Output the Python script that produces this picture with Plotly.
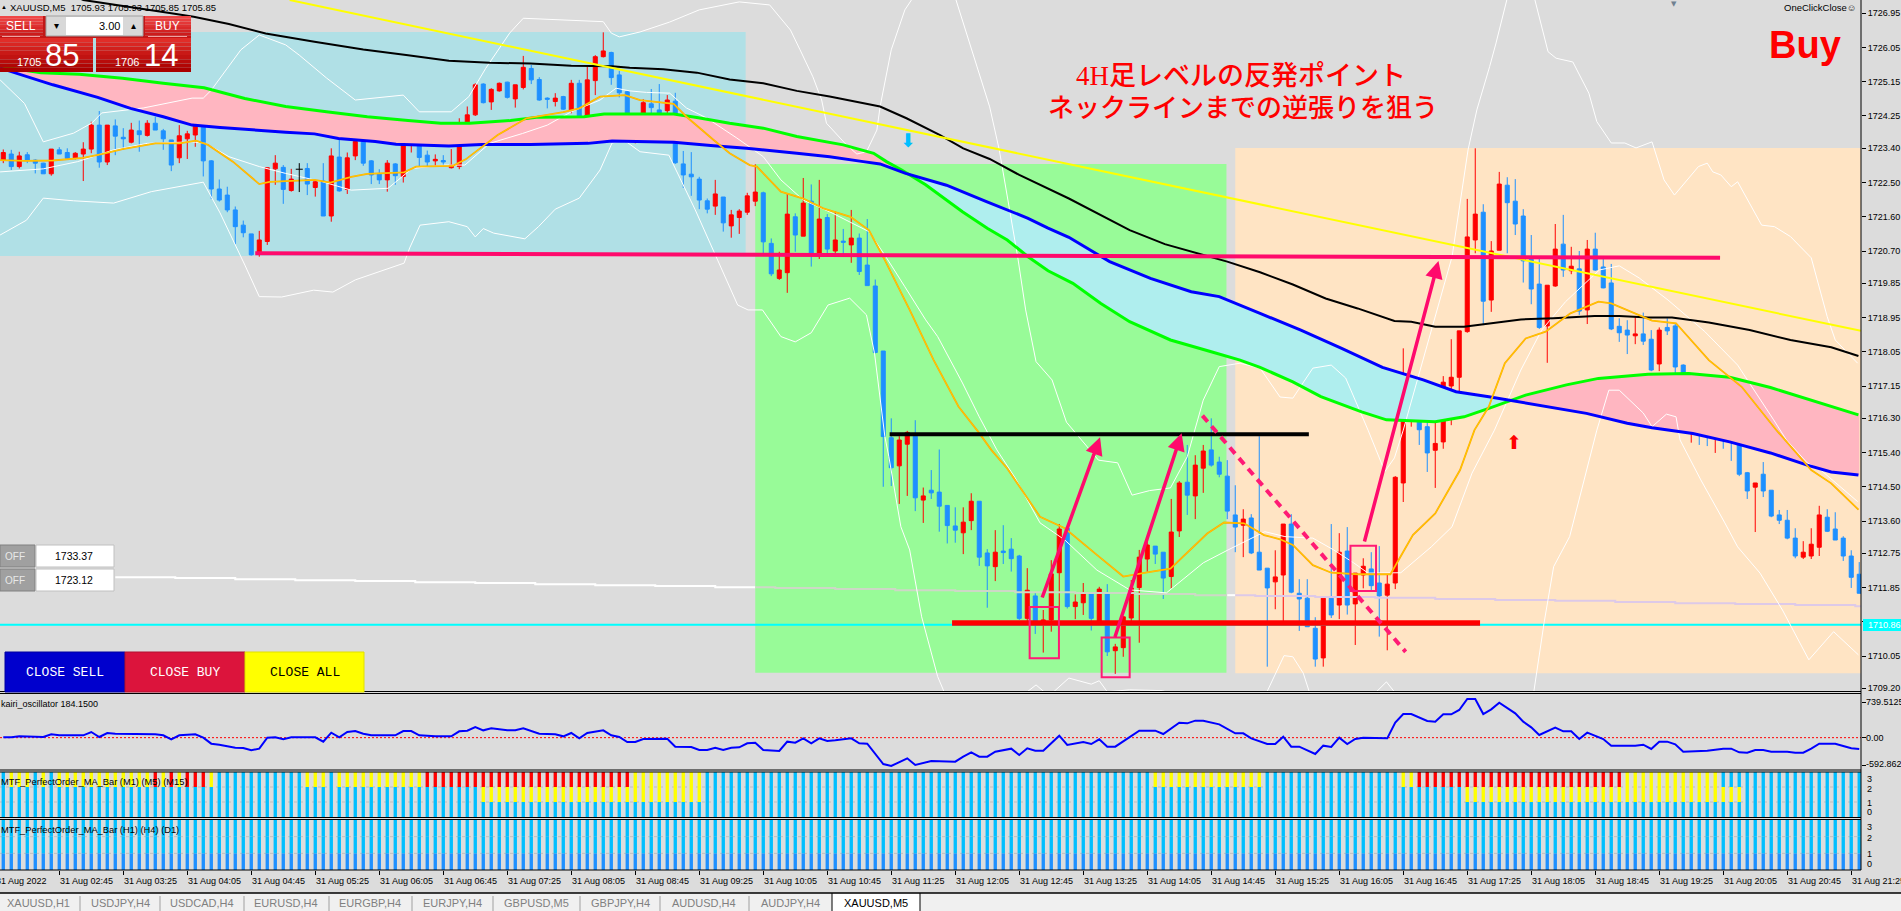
import numpy as np
import plotly.graph_objects as go

# ---------- candle data (bar index = 5-minute bars, first bar 31 Aug 02:10) ----------
opens = [1723.09,1723.25,1722.92,1723.23,1723.09,1723.01,1722.73,1723.36,1723.29,1723.15,
1723.25,1723.38,1724.01,1723.04,1723.99,1723.69,1723.56,1723.86,1723.74,1724.06,
1723.86,1723.62,1723.15,1723.65,1723.75,1724.28,1723.07,1722.33,1722.17,1721.78,
1721.38,1721.15,1720.64,1720.95,1722.86,1722.90,1722.29,1722.85,1722.87,1722.37,
1722.54,1721.62,1723.17,1722.32,1723.20,1723.62,1723.07,1722.73,1722.57,1722.99,
1722.66,1723.67,1723.78,1723.22,1723.07,1723.08,1722.89,1722.92,1723.97,1724.28,
1725.09,1724.62,1724.91,1725.14,1724.70,1725.00,1725.50,1725.21,1724.72,1724.63,
1724.76,1724.41,1725.11,1724.19,1725.18,1725.81,1725.92,1725.33,1724.89,1723.88,
1723.97,1724.57,1724.41,1724.39,1724.64,1722.99,1722.72,1722.59,1722.02,1721.88,
1722.12,1721.36,1721.58,1721.72,1722.01,1722.23,1720.90,1719.98,1720.13,1721.60,
1721.09,1722.01,1720.62,1721.58,1720.70,1720.96,1720.86,1721.04,1720.33,1719.78,
1718.07,1715.79,1715.05,1715.62,1715.83,1714.15,1714.41,1714.36,1714.01,1713.47,
1713.29,1713.61,1714.12,1712.76,1712.40,1712.81,1712.86,1712.68,1711.04,1711.63,
1710.91,1711.00,1712.24,1713.41,1711.35,1711.45,1711.71,1710.91,1711.71,1710.19,
1710.27,1711.05,1711.85,1712.60,1712.94,1712.78,1712.14,1713.34,1714.62,1714.26,
1714.99,1715.47,1715.15,1714.78,1713.76,1713.49,1713.68,1712.78,1712.36,1712.00,
1712.18,1713.52,1711.70,1711.57,1710.78,1710.00,1711.57,1711.39,1712.81,1711.42,
1712.18,1712.34,1711.97,1711.65,1711.97,1714.60,1716.25,1716.75,1716.08,1715.46,
1715.68,1717.15,1717.38,1718.58,1720.99,1721.72,1719.41,1720.72,1722.43,1722.01,
1721.62,1720.48,1719.83,1718.73,1719.78,1720.88,1720.18,1720.23,1719.15,1720.75,
1720.28,1719.86,1718.72,1718.62,1718.47,1718.52,1718.38,1717.73,1718.69,1718.73,
1717.70,1716.23,1716.36,1716.12,1715.99,1715.97,1715.74,1715.77,1714.87,1714.49,
1714.83,1714.41,1713.76,1713.62,1713.15,1712.65,1712.68,1712.91,1713.70,1713.39,
1713.15,1712.68,1712.20]
highs = [1723.37,1723.36,1723.31,1723.30,1723.11,1723.02,1723.38,1723.43,1723.40,1723.30,
1723.56,1724.10,1724.38,1724.01,1724.16,1723.93,1724.07,1724.13,1724.14,1724.23,
1723.91,1723.62,1724.01,1723.86,1724.28,1724.38,1723.09,1722.58,1722.39,1721.87,
1721.50,1721.15,1721.23,1722.89,1723.22,1722.96,1722.86,1723.01,1723.01,1722.58,
1723.01,1723.40,1723.77,1723.29,1723.69,1723.66,1723.09,1722.85,1723.09,1723.01,
1723.99,1723.79,1723.78,1723.34,1723.24,1723.22,1723.38,1724.19,1724.50,1725.11,
1725.11,1724.98,1725.13,1725.15,1725.07,1725.83,1725.59,1725.27,1724.74,1724.85,
1724.78,1725.20,1725.20,1725.55,1725.85,1726.45,1725.94,1725.44,1724.93,1724.14,
1724.69,1724.96,1725.09,1724.80,1724.86,1723.33,1723.30,1722.65,1722.08,1722.57,
1722.12,1721.78,1721.80,1722.23,1722.98,1722.26,1721.03,1720.68,1722.22,1721.69,
1722.62,1722.45,1722.57,1721.67,1721.74,1721.28,1721.78,1721.16,1721.54,1719.95,
1718.07,1716.30,1715.83,1715.97,1716.25,1714.48,1714.94,1715.48,1714.01,1713.96,
1713.96,1714.33,1714.12,1712.86,1713.36,1713.49,1713.15,1712.71,1712.36,1711.73,
1711.26,1712.57,1713.52,1713.41,1711.67,1711.97,1711.71,1711.87,1711.94,1710.37,
1711.10,1712.05,1712.84,1713.07,1712.94,1712.78,1714.18,1714.65,1715.60,1715.33,
1715.60,1716.30,1715.29,1715.20,1714.54,1713.91,1713.78,1715.83,1712.36,1712.83,
1713.52,1713.78,1712.07,1712.07,1711.07,1711.57,1713.52,1713.28,1713.44,1712.23,
1712.62,1712.78,1712.94,1712.20,1714.78,1718.14,1717.13,1717.22,1717.06,1716.47,
1717.41,1718.38,1718.60,1722.07,1723.40,1721.93,1720.96,1722.78,1722.64,1722.59,
1721.80,1721.12,1720.50,1719.80,1721.41,1721.65,1720.81,1720.70,1720.99,1721.18,
1720.50,1720.36,1718.93,1718.88,1718.99,1719.08,1718.62,1718.69,1718.93,1718.80,
1717.72,1716.62,1716.36,1716.20,1716.25,1716.17,1716.02,1715.90,1714.89,1714.60,
1715.15,1714.41,1713.89,1713.89,1713.41,1713.07,1713.41,1714.00,1713.91,1713.83,
1713.20,1712.83,1712.52]
lows = [1723.01,1722.83,1722.87,1723.01,1722.74,1722.73,1722.68,1723.25,1723.11,1723.11,
1722.54,1723.27,1722.89,1722.96,1723.22,1723.36,1723.53,1723.31,1723.71,1723.88,
1723.36,1722.80,1723.01,1723.12,1723.44,1722.66,1722.07,1722.00,1721.72,1720.88,
1721.06,1720.58,1720.55,1720.86,1722.44,1721.94,1722.26,1722.25,1722.17,1722.13,
1721.62,1721.47,1722.26,1722.20,1723.09,1722.94,1722.46,1722.46,1722.26,1722.44,
1722.50,1723.29,1722.92,1722.92,1722.94,1722.94,1722.87,1722.85,1723.72,1724.25,
1724.58,1724.41,1724.89,1724.71,1724.47,1724.95,1725.09,1724.65,1724.45,1724.50,
1724.41,1724.32,1723.97,1724.16,1724.80,1725.79,1725.07,1724.74,1723.62,1723.53,
1723.86,1724.07,1723.99,1724.21,1722.99,1722.36,1722.15,1721.80,1721.69,1721.65,
1721.21,1721.05,1721.15,1721.65,1721.88,1720.64,1720.04,1719.94,1719.60,1720.68,
1721.09,1720.29,1720.49,1720.62,1720.62,1720.62,1720.39,1720.07,1719.79,1718.01,
1714.50,1714.52,1714.05,1714.26,1713.86,1713.55,1714.18,1713.32,1713.01,1713.03,
1712.73,1713.36,1712.42,1711.32,1712.02,1712.47,1712.27,1711.00,1710.93,1710.63,
1710.14,1710.69,1711.04,1711.30,1711.02,1711.13,1710.72,1710.91,1710.05,1709.58,
1710.03,1710.95,1710.40,1712.27,1712.47,1711.55,1711.83,1713.18,1713.76,1713.65,
1714.34,1715.03,1714.75,1713.65,1712.78,1712.65,1712.73,1712.31,1709.77,1711.28,
1710.97,1711.70,1710.71,1710.82,1709.77,1709.77,1711.05,1711.02,1711.14,1710.34,
1711.83,1711.78,1710.56,1710.20,1711.81,1714.10,1716.08,1715.60,1714.89,1714.47,
1715.50,1716.12,1716.96,1718.55,1720.64,1718.75,1719.10,1720.72,1720.64,1721.12,
1719.87,1719.30,1718.65,1717.76,1719.76,1720.02,1720.09,1719.02,1718.78,1720.18,
1719.72,1718.62,1718.31,1717.99,1718.25,1718.23,1717.54,1717.54,1718.49,1717.36,
1716.15,1715.66,1715.60,1715.57,1715.39,1715.50,1715.18,1714.78,1714.18,1713.31,
1714.23,1713.70,1713.52,1713.12,1712.62,1712.60,1712.60,1712.68,1713.31,1713.10,
1712.55,1711.84,1711.70]
closes = [1723.29,1722.92,1723.20,1723.09,1723.01,1722.73,1723.38,1723.25,1723.14,1723.27,
1723.38,1724.01,1723.04,1724.01,1723.72,1723.65,1723.88,1723.76,1724.06,1723.88,
1723.65,1722.96,1723.73,1723.78,1724.23,1723.07,1722.33,1722.04,1721.78,1721.34,
1721.18,1720.60,1720.99,1722.89,1723.01,1722.32,1722.59,1722.85,1722.46,1722.52,
1721.62,1723.20,1722.28,1723.15,1723.58,1723.01,1722.70,1722.57,1723.01,1722.68,
1723.72,1723.78,1723.16,1723.04,1723.11,1723.04,1722.96,1723.96,1724.28,1725.07,
1724.60,1724.95,1725.11,1724.74,1725.07,1725.53,1725.20,1724.67,1724.69,1724.72,
1724.43,1725.11,1724.19,1725.20,1725.81,1725.96,1725.26,1724.86,1723.90,1724.08,
1724.60,1724.47,1724.33,1724.67,1723.02,1722.70,1722.65,1722.04,1721.80,1722.20,
1721.44,1721.65,1721.75,1722.15,1722.25,1720.94,1720.10,1720.20,1721.67,1721.12,
1721.96,1720.62,1721.54,1720.75,1720.99,1720.93,1721.04,1720.16,1719.79,1718.03,
1715.82,1715.00,1715.73,1715.93,1714.21,1714.26,1714.34,1713.99,1713.48,1713.36,
1713.57,1714.12,1712.65,1712.42,1712.78,1712.77,1712.61,1711.04,1711.78,1710.95,
1711.00,1712.21,1713.39,1711.35,1711.47,1711.68,1711.04,1711.81,1710.16,1710.29,
1711.08,1711.84,1712.65,1712.97,1712.73,1712.10,1713.31,1714.60,1714.28,1715.07,
1715.44,1715.07,1714.83,1713.86,1713.44,1713.65,1712.76,1712.31,1711.84,1712.13,
1713.52,1711.73,1711.55,1710.82,1709.97,1711.57,1711.13,1712.78,1711.39,1712.23,
1712.41,1711.90,1711.63,1711.94,1714.75,1716.30,1716.69,1716.00,1715.39,1715.64,
1717.25,1717.38,1718.60,1721.07,1721.67,1719.38,1720.70,1722.46,1721.97,1721.41,
1720.44,1719.70,1718.69,1719.80,1720.75,1720.20,1720.30,1719.12,1720.75,1720.20,
1719.73,1718.65,1718.55,1718.49,1718.52,1718.33,1717.57,1718.62,1718.60,1717.65,
1716.20,1716.33,1716.10,1716.06,1716.10,1715.74,1715.68,1714.83,1714.39,1714.60,
1714.39,1713.73,1713.62,1713.15,1712.68,1712.78,1712.99,1713.76,1713.33,1713.10,
1712.68,1712.12,1711.70]
doji_bar = 37

# ---------- moving averages: (bar, price) ----------
black_k = [8,10,21,23.8,28.2,32.8,38.9,45,50.6,55.7,60.8,65.9,71,76.1,78.3,82.5,86.7,90.8,95,99.2,103.3,107.5,109.6,112.9,117.1,120,123.3,127,133.2,140.8,145.2,153,157.1,161.2,165.3,169.3,173.9,176,179,182.6,187.7,189.7,193.8,198.9,202,205.6,208.6,213.2,218.3,223.4,228.5,231.9]
black_p = [1727.5,1727.3,1726.95,1726.86,1726.67,1726.42,1726.20,1726.0,1725.85,1725.70,1725.65,1725.63,1725.57,1725.56,1725.52,1725.48,1725.39,1725.21,1725.11,1724.91,1724.76,1724.60,1724.50,1724.19,1723.75,1723.40,1723.12,1722.70,1722.08,1721.25,1720.88,1720.42,1720.14,1719.82,1719.45,1719.19,1718.86,1718.84,1718.71,1718.71,1718.86,1718.90,1718.93,1718.99,1718.99,1718.95,1718.95,1718.82,1718.62,1718.36,1718.17,1717.94]
blue_k = [-0.4,1.9,6.2,11.8,15.9,20,23.6,27.1,31.2,35.3,38.9,41.9,46.5,49.1,55.7,59.8,65.9,73.1,76.1,79.6,83.8,88.8,92.9,99.2,103.3,107.5,109.6,112.8,117.9,122.9,128.1,130.6,133.2,138.3,143.4,148.5,152,157.1,162.2,167.3,172.4,177.5,181.6,185.7,188.2,192.8,197.9,203,206.1,211.2,215.8,220.9,225.5,228.5,231.9]
blue_p = [1725.51,1725.35,1725.07,1724.74,1724.45,1724.23,1724.01,1723.95,1723.88,1723.82,1723.78,1723.66,1723.58,1723.51,1723.46,1723.50,1723.50,1723.53,1723.59,1723.58,1723.56,1723.47,1723.40,1723.27,1723.18,1723.05,1722.99,1722.74,1722.43,1722.0,1721.56,1721.30,1721.06,1720.42,1719.98,1719.63,1719.50,1719.06,1718.62,1718.14,1717.64,1717.31,1717.0,1716.87,1716.78,1716.61,1716.43,1716.17,1716.05,1715.90,1715.68,1715.39,1715.07,1714.89,1714.81]
green_k = [-0.4,4.7,9.5,14.9,20,25.1,30.2,35.3,40.4,45.5,50.6,54.7,58.3,63.4,66.9,72.6,75.1,79.6,83.8,86.7,90.8,95,99.2,105,108.8,110.4,112.3,115.3,119.9,123,125.5,128.1,130.6,133.7,137.2,140.8,145.9,151,154.6,157.1,161.2,164.7,169.8,172.9,179,182.6,185.7,190.3,195.4,199.4,205.6,210.7,215.8,220.9,226,231.9]
green_p = [1725.55,1725.39,1725.35,1725.24,1725.11,1724.99,1724.71,1724.50,1724.36,1724.23,1724.13,1724.06,1724.06,1724.13,1724.22,1724.23,1724.30,1724.30,1724.30,1724.21,1724.06,1723.93,1723.71,1723.49,1723.27,1723.05,1722.83,1722.44,1721.73,1721.30,1720.99,1720.55,1720.18,1719.85,1719.32,1718.84,1718.36,1718.05,1717.83,1717.64,1717.26,1716.87,1716.47,1716.26,1716.21,1716.34,1716.56,1716.91,1717.18,1717.35,1717.46,1717.48,1717.38,1717.11,1716.78,1716.39]
orange_k = [-0.4,2.7,6.2,10,12.3,14.9,19,22,24.1,25.6,28.7,32,33.3,38.9,40.9,43.5,45.5,50.1,51.6,56.2,57.8,61.8,65.4,70,72,74.6,77.7,79.6,83.8,85.4,88.8,90.8,93.3,94.2,97.2,100,102.5,105.9,108.2,110.2,113.3,116.3,119.4,122,123.5,125.5,129.6,131.6,132.7,136.7,140,142.8,145.9,150.5,152.6,155.1,157.6,159.6,161.2,163.7,166,169.3,173.4,176.2,179,182.1,183.9,185.7,187.7,190.3,192.8,195.9,199.4,201,206.1,209.1,213.2,217.3,221.6,226,228.5,231.9]
orange_p = [1723.09,1723.07,1723.08,1723.15,1723.25,1723.38,1723.53,1723.53,1723.60,1723.49,1723.05,1722.46,1722.52,1722.57,1722.50,1722.65,1722.73,1722.77,1722.92,1722.94,1723.11,1723.75,1724.19,1724.35,1724.45,1724.76,1724.80,1724.67,1724.57,1724.23,1723.62,1723.27,1722.96,1722.92,1722.26,1722.08,1721.82,1721.60,1721.25,1720.46,1719.15,1717.83,1716.61,1715.91,1715.47,1714.98,1713.71,1713.52,1713.41,1712.71,1712.14,1712.24,1712.35,1713.27,1713.56,1713.54,1713.23,1713.12,1712.97,1712.44,1712.24,1712.20,1712.20,1713.23,1713.80,1714.94,1715.99,1716.61,1717.75,1718.40,1718.58,1719.06,1719.37,1719.32,1718.87,1718.80,1717.83,1717.13,1716.0,1714.94,1714.59,1713.90]

upper_k = [-0.4,2.65,5,8.8,11.1,12.3,17.5,23.6,25,26,29.7,32,35.3,37,40.4,44,50,52,56,58.2,60.3,63.3,65,75,76,77,79.6,83.3,87,92,95.8,98.4,99.6,101.2,102.3,102.9,105.4,106.7,107.9,109.2,109.6,111,112.7,115.2,118.3,121.1,123.3,124.5,125.8,126.8,127.8,129.1,131.1,132.9,136.9,139.3,141.1,143.3,145.9,148,150,152,154.6,157.1,159.6,161.2,163.7,166,167.8,170.6,172.7,173.9,175,179,181.1,183.1,184.2,185.8,186.6,188,191.4,193.1,194.1,196.2,198.2,199.2,201,202.7,204.1,206.1,207.6,208.9,211.9,213,213.7,214.7,216,216.8,219.8,221.4,223.4,226,228,229,231.8]
upper_p = [1725.20,1724.58,1723.57,1723.80,1724.07,1724.33,1724.46,1724.72,1724.72,1724.93,1725.99,1726.38,1726.12,1725.85,1725.25,1724.67,1724.80,1724.36,1724.36,1724.76,1725.50,1726.43,1726.82,1726.73,1726.43,1726.33,1726.46,1726.72,1727.04,1727.25,1727.17,1726.51,1725.99,1725.28,1724.67,1724.06,1723.49,1723.25,1723.31,1723.88,1724.49,1725.99,1727.04,1727.83,1727.83,1725.99,1724.49,1723.36,1721.78,1720.55,1719.15,1717.79,1717.31,1716.20,1715.20,1715.13,1714.28,1714.40,1714.47,1715.29,1716.78,1717.66,1717.75,1717.62,1716.86,1716.83,1717.62,1717.70,1717.36,1715.99,1714.90,1715.26,1715.99,1718.97,1720.55,1723.36,1724.41,1725.55,1726.17,1727.35,1727.35,1725.94,1725.77,1725.67,1724.85,1724.10,1723.54,1723.54,1723.41,1723.57,1722.57,1722.17,1722.92,1723.01,1722.78,1722.70,1722.39,1722.52,1721.38,1721.34,1721.08,1720.52,1718.97,1718.36,1717.75]
lower_k = [-0.4,2.9,5,8.8,13.8,18.5,25,27.1,30.2,32,34.8,38.8,41.2,44,50.1,50.8,52.1,55.7,58,59,60,61.3,65.2,66.9,69,72,74.6,76.1,77.7,79.6,83.2,86.5,89.3,91.8,93.1,94.9,97.2,99,101,103.1,105.8,107.9,108.9,110.2,110.7,112.2,113.3,114.8,116.8,117.6,120.8,125.2,128,129.1,130.1,131.3,133.2,136,137,138,140.8,144.9,145.7,150.8,155.8,157.9,160.1,161.2,162.5,163.3,167.1,171.6,172.9,174,182.1,191.3,192.6,193.8,195.8,198.7,199.2,200.7,202,205,206.1,207.9,209.1,209.6,212.2,215.2,216.8,219.6,222.4,225.7,228.8,231.9]
lower_p = [1721.12,1721.51,1722.09,1722.02,1721.96,1722.26,1722.51,1721.70,1720.33,1719.50,1719.49,1719.67,1719.62,1719.94,1720.38,1720.78,1721.38,1721.47,1721.34,1721.07,1721.29,1721.17,1721.02,1721.34,1721.80,1722.09,1722.83,1723.54,1723.60,1723.31,1723.22,1721.78,1720.46,1719.28,1719.15,1719.15,1718.45,1718.31,1718.55,1719.28,1719.46,1719.02,1718.02,1715.82,1715.29,1713.45,1712.84,1711.08,1709.51,1709.11,1708.37,1708.37,1709.11,1709.29,1709.11,1709.11,1709.47,1709.31,1709.40,1709.11,1709.16,1709.14,1709.08,1708.37,1708.37,1709.08,1710.06,1710.03,1709.60,1709.08,1708.37,1709.10,1709.37,1709.08,1708.37,1709.08,1710.92,1712.40,1713.19,1715.55,1715.99,1717.04,1717.04,1716.44,1716.08,1716.41,1716.34,1715.73,1714.68,1713.55,1712.92,1712.23,1711.26,1709.95,1710.69,1710.08]
inner_k = [-0.4,5,9.3,13.8,18,23.6,25.3,28.2,32,35.3,39.9,43.5,48.1,51.1,55.2,57.7,60.8,64.9,68,71,74.6,76.6,78.3,80.4,83.3,85.4,87.9,91.7,95,97.2,100,103.6,108.2,110.2,112.7,115.3,116.8,119.9,122,124.2,126.5,129.6,132.7,136.7,140.8,145.4,150,153.1,157.7,160.2,163.7,166.3,168.8,170.6,174.7,178.5,181.1,183.6,186.4,189.7,192.3,195.3,199.5,202,204.5,208.1,212.7,216.8,221.3,222.9,225.5,227.2,231.8]
inner_p = [1722.78,1722.86,1723.05,1723.36,1723.53,1723.57,1723.53,1723.18,1722.92,1722.74,1722.52,1722.30,1722.35,1722.87,1722.96,1722.96,1723.53,1723.79,1724.01,1724.36,1724.67,1724.98,1724.91,1724.87,1724.85,1724.46,1724.20,1723.67,1723.18,1722.57,1722.04,1721.70,1721.21,1720.59,1719.76,1718.89,1718.45,1717.23,1716.34,1715.47,1714.73,1713.55,1713.10,1712.31,1711.79,1711.71,1712.50,1712.84,1713.32,1713.19,1713.15,1712.84,1712.50,1712.23,1712.24,1712.92,1713.45,1714.86,1715.99,1717.57,1718.62,1719.37,1720.20,1720.31,1719.99,1719.41,1718.58,1717.70,1716.26,1715.73,1715.13,1714.94,1714.11]

step_k = [14,21.5,29,36.5,44,51.5,59,66.5,74,81.5,89,96.5,104,111.5,119,126.5,134,141.5,149,156.5,164,171.5,179,186.5,194,201.5,209,216.5,224,231.5]
step_p = [1712.12,1712.10,1712.07,1712.04,1712.02,1711.99,1711.97,1711.94,1711.91,1711.89,1711.86,1711.84,1711.81,1711.78,1711.76,1711.73,1711.71,1711.68,1711.65,1711.63,1711.60,1711.58,1711.55,1711.52,1711.50,1711.47,1711.44,1711.42,1711.39,1711.36]

trend_k = [35.8,232.2]
trend_p = [1727.30,1718.60]
cyan_price = 1710.87

# ---------- kairi oscillator ----------
kairi_k = [0,1,2,4,5,6,7,10,11,12,13,14,19,20,21,22,24,25,26,27,29,30,31,32,33,34,35,36,39,40,41,42,43,44,45,46,49,50,51,52,54,56,57,58,59,60,61,63,64,65,67,69,70,71,72,73,75,76,77,78,79,
80,83,84,86,87,88,89,90,91,92,93,94,95,97,98,99,100,101,102,103,104,106,107,108,110,111,113,114,116,119,120,121,122,123,124,126,127,128,129,130,132,133,135,136,137,138,139,142,144,145,147,148,149,150,152,154,155,156,158,159,
160,161,162,164,165,166,167,168,169,170,173,174,175,176,178,179,180,181,182,183,184,185,186,187,189,190,191,192,194,195,196,197,198,200,201,204,205,206,207,208,209,210,213,214,215,216,217,218,219,220,221,223,224,225,226,227,229,230,231,232]
kairi_v = [7,7,28,14,14,70,49,49,119,14,98,84,70,49,-35,49,70,0,-126,-147,-210,-217,-266,-231,0,7,-35,7,7,-84,105,7,119,140,84,49,49,140,140,49,28,28,133,147,224,154,196,154,154,196,84,70,28,98,-14,98,154,49,14,-91,-91,
-28,-21,-189,-196,-259,-259,-210,-259,-210,-203,-119,-105,-259,-280,-84,-105,-14,-119,-14,-70,-56,-14,-119,-126,-553,-595,-434,-574,-490,-504,-399,-308,-399,-399,-294,-231,-364,-224,-273,-273,42,-154,-91,-133,-35,-189,-189,147,147,77,315,301,357,357,280,91,91,-14,-133,-133,
21,-189,-189,-343,-168,-196,0,-133,-28,0,-14,315,497,497,350,336,490,490,581,812,812,497,595,735,511,336,217,56,210,133,133,-28,105,-28,-168,-168,-147,-238,-84,-84,-140,-294,-273,-245,-231,-231,-308,-315,-259,-259,-294,-294,-315,-315,-231,-126,-126,-175,-224,-238]

# ---------- MTF perfect-order rows: (first bar, last bar, colour code); anything else is sky ----------
m1_runs = [(1,3,"Y"),(5,5,"Y"),(7,18,"Y"),(19,19,"R"),(20,20,"Y"),(21,21,"R"),(22,22,"Y"),(23,25,"R"),(26,26,"Y"),
           (38,40,"Y"),(42,52,"Y"),(53,78,"R"),(79,87,"Y"),(144,157,"Y"),(175,176,"Y"),(177,202,"R"),(203,214,"Y")]
m5_runs = [(60,87,"Y"),(183,217,"Y")]

# ---------- labels ----------
price_ticks = [1726.95,1726.05,1725.15,1724.25,1723.40,1722.50,1721.60,1720.70,1719.85,1718.95,1718.05,1717.15,1716.30,1715.40,1714.50,1713.60,1712.75,1711.85,1710.95,1710.05,1709.20]
time_labels = ["02:45","03:25","04:05","04:45","05:25","06:05","06:45","07:25","08:05","08:45","09:25","10:05","10:45","11:25","12:05","12:45","13:25","14:05","14:45","15:25","16:05","16:45","17:25","18:05","18:45","19:25","20:05","20:45","21:25"]
tabs = ["XAUUSD,H1","USDJPY,H4","USDCAD,H4","EURUSD,H4","EURGBP,H4","EURJPY,H4","GBPUSD,M5","GBPJPY,H4","AUDUSD,H4","AUDJPY,H4","XAUUSD,M5"]

# ---------- style ----------
W, H = 1901, 911
BG = "#DCDCDC"
SKY = "#00BFFF"
DODGER = "#1E90FF"
PINK = "#FF0A6C"
UI = "Liberation Sans, Arial"
CODE = {"Y": "#FFFF00", "R": "#FF0000"}
N = len(opens)
xrange_ = [-0.41, 232.22]
px = lambda x: x / W
py = lambda y: 1 - y / H

fig = go.Figure()
ks = list(range(N))

# ribbon fill
grid = np.arange(-0.4, 232.01, 0.1)
bi, gi = np.interp(grid, blue_k, blue_p), np.interp(grid, green_k, green_p)
above = gi >= bi
start = 0
for i in range(1, len(grid) + 1):
    if i == len(grid) or above[i] != above[start]:
        xs = np.r_[grid[start:i + 1], grid[start:i + 1][::-1]]
        ys = np.r_[gi[start:i + 1], bi[start:i + 1][::-1]]
        fig.add_trace(go.Scatter(x=xs, y=ys, fill="toself", mode="none", hoverinfo="skip",
                                 fillcolor="#FFB6C1" if above[start] else "#AFEEEE", showlegend=False))
        start = i

def line(k, p, color, width, **kw):
    fig.add_trace(go.Scatter(x=k, y=p, mode="lines", line=dict(color=color, width=width, **kw),
                             hoverinfo="skip", showlegend=False))

# stepped long MA, tinted by what lies under it
for a, b, col in [(-1, 94, "#FFFFFF"), (94, 153, "#CDD8C6"), (153, 154, "#FFFFFF"), (154, 233, "#DDC9E8")]:
    sk = [max(a, s) for s, n in zip(step_k, step_k[1:] + [232.2]) if s < b and n > a] + [min(b, 232.2)]
    sp = [p for s, n, p in zip(step_k, step_k[1:] + [232.2], step_p) if s < b and n > a]
    sp = sp + [sp[-1]]
    line(sk, sp, col, 2, shape="hv")

line(list(xrange_), [cyan_price, cyan_price], "#00FFFF", 2)
line(upper_k, upper_p, "#FFFFFF", 1)
line(lower_k, lower_p, "#FFFFFF", 1)
line(inner_k, inner_p, "#FFFFFF", 1)
line(black_k, black_p, "#000000", 2)
line(trend_k, trend_p, "#FFFF00", 2)
line(green_k, green_p, "#00FF00", 3)
line(blue_k, blue_p, "#0000FF", 3)
line(orange_k, orange_p, "#FFA500", 1.8)
line(orange_k, orange_p, "#FFE400", 0.6)

idx = [i for i in ks if i != doji_bar]
fig.add_trace(go.Candlestick(
    x=idx, open=[opens[i] for i in idx], high=[highs[i] for i in idx],
    low=[lows[i] for i in idx], close=[closes[i] for i in idx],
    increasing=dict(line=dict(color="#FF0000", width=1), fillcolor="#FF0000"),
    decreasing=dict(line=dict(color=DODGER, width=1), fillcolor=DODGER),
    whiskerwidth=0, hoverinfo="skip", showlegend=False))
fig.add_trace(go.Scatter(
    x=[doji_bar], y=[closes[doji_bar]], mode="markers", showlegend=False, hoverinfo="skip",
    marker=dict(symbol="line-ew", size=5, line=dict(color="#000000", width=1)),
    error_y=dict(type="data", symmetric=False, array=[highs[doji_bar] - closes[doji_bar]],
                 arrayminus=[closes[doji_bar] - lows[doji_bar]], color="#000000", thickness=1, width=0)))

# kairi panel
fig.add_trace(go.Scatter(x=list(xrange_), y=[0, 0], mode="lines", xaxis="x2", yaxis="y2", showlegend=False,
                         hoverinfo="skip", line=dict(color="#FF0000", width=1, dash="2px,2px")))
fig.add_trace(go.Scatter(x=kairi_k, y=kairi_v, mode="lines", xaxis="x2", yaxis="y2", showlegend=False,
                         hoverinfo="skip", line=dict(color="#0000FF", width=2)))

# MTF rows
def row_colors(runs):
    c = [SKY] * N
    for a, b, code in runs:
        for i in range(a, b + 1):
            c[i] = CODE[code]
    return c

def bar_row(level, colors, xa, ya):
    fig.add_trace(go.Bar(x=ks, y=[1] * N, base=[level] * N, width=0.42, marker=dict(color=colors, line=dict(width=0)),
                         xaxis=xa, yaxis=ya, showlegend=False, hoverinfo="skip"))

bar_row(0, [SKY] * N, "x3", "y3")
bar_row(1, row_colors(m5_runs), "x3", "y3")
bar_row(2, row_colors(m1_runs), "x3", "y3")
bar_row(0, [DODGER] * N, "x4", "y4")
bar_row(1, [SKY] * N, "x4", "y4")
bar_row(2, [SKY] * N, "x4", "y4")

shapes = []
def rect(x0, y0, x1, y1, fill, lw=0, lc=None, layer="above"):
    shapes.append(dict(type="rect", xref="paper", yref="paper", x0=px(x0), x1=px(x1), y0=py(y0), y1=py(y1),
                       fillcolor=fill, line=dict(width=lw, color=lc or fill), layer=layer))
def hline(x0, x1, y, color="#000000", w=1):
    shapes.append(dict(type="line", xref="paper", yref="paper", x0=px(x0), x1=px(x1), y0=py(y), y1=py(y),
                       line=dict(color=color, width=w), layer="above"))
def vline(x, y0, y1, color="#000000", w=1):
    shapes.append(dict(type="line", xref="paper", yref="paper", x0=px(x), x1=px(x), y0=py(y0), y1=py(y1),
                       line=dict(color=color, width=w), layer="above"))

# coloured zones (bar, price)
for k0, k1, p0, p1, col in [(-0.41, 92.8, 1726.46, 1720.57, "#B0E0E6"),
                            (94, 152.9, 1722.99, 1709.61, "#98FB98"),
                            (154, 232.22, 1723.41, 1709.60, "#FFE4C4")]:
    shapes.append(dict(type="rect", xref="x", yref="y", x0=k0, x1=k1, y0=p0, y1=p1, fillcolor=col,
                       line=dict(width=0), layer="below"))

# drawn objects (bar, price)
for k0, p0, k1, p1, col, w, dash in [(31.5, 1720.64, 214.6, 1720.52, PINK, 4, None),
                                     (110.8, 1715.88, 163.2, 1715.88, "#000000", 4, None),
                                     (118.6, 1710.92, 184.6, 1710.92, "#FF0000", 5.5, None),
                                     (149.9, 1716.37, 175.3, 1710.16, "#FF1A75", 4, "8px,6px")]:
    shapes.append(dict(type="line", xref="x", yref="y", x0=k0, x1=k1, y0=p0, y1=p1,
                       line=dict(color=col, width=w, dash=dash or "solid"), layer="above"))
for k0, p0, k1, p1 in [(128.3, 1711.34, 131.96, 1709.99), (137.3, 1710.54, 140.8, 1709.49), (168.4, 1712.95, 171.6, 1711.76)]:
    shapes.append(dict(type="rect", xref="x", yref="y", x0=k0, x1=k1, y0=p0, y1=p1, fillcolor="rgba(0,0,0,0)",
                       line=dict(color="#FF1A75", width=2), layer="above"))

# panel dotted levels
for yr, lv in [("y3", 1), ("y3", 2), ("y4", 1), ("y4", 2)]:
    shapes.append(dict(type="line", xref="paper", yref=yr, x0=0, x1=px(1861), y0=lv, y1=lv,
                       line=dict(color="#BEBEBE", width=1, dash="3px,3px"), layer="below"))

# panel frames
for y in [691.5, 693.5, 770, 772, 817.5, 819.5, 870]:
    hline(0, 1861, y, w=1)
vline(1861, 0, 870, w=1)
# bottom tab bar
rect(0, 893, W, H, "#F0F0F0")
hline(0, W, 893, w=1.5)
tab_x = [38, 120, 202, 286, 370, 452, 536, 620, 704, 790, 876]
tab_seps = [80, 160, 244, 329, 412, 493, 580, 660, 749]
for s in tab_seps:
    vline(s, 896, 911, color="#A0A0A0", w=1)
rect(832, 894, 920, H, "#FFFFFF")
vline(832, 893, 911, w=1)
vline(920, 893, 911, w=1)

# order widget
def gradient(x0, y0, x1, y1, c0, c1, steps=8):
    a, b = np.array(c0), np.array(c1)
    for i in range(steps):
        c = a + (b - a) * i / (steps - 1)
        ya, yb = y0 + (y1 - y0) * i / steps, y0 + (y1 - y0) * (i + 1) / steps
        rect(x0, ya, x1, yb, "rgb(%d,%d,%d)" % tuple(c))
gradient(0, 16, 43, 38, (240, 70, 70), (200, 20, 20))
gradient(145, 16, 191, 38, (240, 70, 70), (200, 20, 20))
gradient(0, 38, 93, 72, (225, 45, 40), (170, 0, 0))
gradient(96, 38, 191, 72, (225, 45, 40), (170, 0, 0))
rect(43, 16, 145, 38, "#C01818")
rect(46, 16, 143, 36, "#D8D8D8", 1, "#A0A0A0")
rect(66, 17, 123, 35, "#FFFFFF")
hline(2, 40, 36.5, "#F0A0A0", 1)
hline(148, 187, 36.5, "#F0A0A0", 1)

# left boxes
for y0 in (545, 569):
    rect(0, y0, 35, y0 + 22, "#A0A0A0", 1, "#808080")
    rect(36, y0, 114, y0 + 22, "#FFFFFF", 1, "#C0C0C0")
for x0, x1, col, edge in [(5, 125, "#0000CD", "#0000A0"), (125, 245, "#DC143C", "#B01030"), (245, 364, "#FFFF00", "#E0E000")]:
    rect(x0, 652, x1, 692, col, 1, edge)
# current-price box
rect(1863, 619, 1901, 631, "#00FFFF")

def text(x, y, s, size=11, color="#000000", anchor="left", family=UI):
    fig.add_annotation(xref="paper", yref="paper", x=px(x), y=py(y), text=s, showarrow=False, xanchor=anchor,
                       yanchor="middle", align=anchor, borderpad=0, font=dict(size=size, color=color, family=family))

text(0, 7, "▲", 6)
text(9, 7, "XAUUSD,M5  1705.93 1705.93 1705.85 1705.85", 9.5)
text(21, 26, "SELL", 12, "#FFFFFF", "center")
text(167, 26, "BUY", 12, "#FFFFFF", "center")
text(121, 26, "3.00", 11, "#000000", "right")
text(56, 26, "▾", 10, "#000000", "center", "DejaVu Sans")
text(133, 26, "▴", 10, "#000000", "center", "DejaVu Sans")
text(29, 62, "1705", 11, "#FFFFFF", "center")
text(62, 55, "85", 31, "#FFFFFF", "center")
text(127, 62, "1706", 11, "#FFFFFF", "center")
text(161, 55, "14", 31, "#FFFFFF", "center")
text(15, 556, "OFF", 10, "#E8E8E8", "center")
text(15, 580, "OFF", 10, "#E8E8E8", "center")
text(74, 556, "1733.37", 10.5, "#000000", "center")
text(74, 580, "1723.12", 10.5, "#000000", "center")
text(65, 672, "CLOSE SELL", 13, "#FFFFFF", "center", "Liberation Mono")
text(185, 672, "CLOSE BUY", 13, "#FFFFFF", "center", "Liberation Mono")
text(305, 672, "CLOSE ALL", 13, "#000000", "center", "Liberation Mono")
text(0, 704, "kairi_oscillator 184.1500", 9)
text(0, 782, "MTF_PerfectOrder_MA_Bar (M1) (M5) (M15)", 9.3)
text(0, 830, "MTF_PerfectOrder_MA_Bar (H1) (H4) (D1)", 9.3)
text(1783, 8, "OneClickClose☺", 9.5)
text(1674, 4, "▼", 7, "#708090", "center", "DejaVu Sans")
text(1805, 45, "Buy", 38, "#FF0000", "center")
fig.layout.annotations[-1].font.weight = "bold"
text(1241, 76, "4H足レベルの反発ポイント", 27, "#FF0000", "center", "Liberation Serif, Noto Sans CJK JP")
fig.layout.annotations[-1].font.weight = 500
text(1243, 105, "ネックラインまでの逆張りを狙う", 26, "#FF0000", "center", "Noto Sans CJK JP")
fig.layout.annotations[-1].font.weight = 500
text(1867, 625, "1710.86", 9, "#FFFFFF")

for name, x in zip(tabs, tab_x):
    text(x, 903, name, 11, "#000000" if x == tab_x[-1] else "#808080", "center")

# time axis text
text(-5, 881, "31 Aug 2022", 9)
for i, t in enumerate(time_labels):
    fig.add_annotation(xref="x4", yref="paper", x=7 + 8 * i, y=py(881), text="31 Aug " + t, showarrow=False,
                       xanchor="left", yanchor="middle", xshift=-1, font=dict(size=9, color="#000000", family=UI))
# panel scale text
for y, s in [(779, "3"), (789, "2"), (803, "1"), (812, "0"), (827, "3"), (838, "2"), (854, "1"), (864, "0")]:
    text(1866, y, s, 9)
for y, s in [(702, "739.5125"), (738, "0.00"), (764, "-592.8625")]:
    text(1865, y, s, 9)

# arrows (bar, price)
for k0, p0, k1, p1 in [(129.8, 1711.55, 137.1, 1715.80), (138.9, 1710.51, 147.3, 1715.91), (170.1, 1713.02, 179.4, 1720.44)]:
    fig.add_annotation(xref="x", yref="y", axref="x", ayref="y", x=k1, y=p1, ax=k0, ay=p0, text="", showarrow=True,
                       arrowhead=2, arrowsize=1.0, arrowwidth=3.5, arrowcolor=PINK)
fig.add_annotation(xref="x", yref="y", x=113.1, y=1723.62, text="⬇", showarrow=False,
                   font=dict(size=19, color=SKY, family="DejaVu Sans"))
fig.add_annotation(xref="x", yref="y", x=188.8, y=1715.68, text="⬆", showarrow=False,
                   font=dict(size=19, color="#FF0000", family="DejaVu Sans"))

def xax(anchor):
    return dict(domain=[0, px(1861)], range=xrange_, anchor=anchor, showgrid=False, zeroline=False,
                showticklabels=False, showline=False, ticks="", fixedrange=True, rangeslider=dict(visible=False))

tickfont = dict(size=9, color="#000000", family=UI)
fig.update_layout(
    width=W, height=H, margin=dict(l=0, r=0, t=0, b=0), autosize=False,
    paper_bgcolor=BG, plot_bgcolor=BG, showlegend=False, boxgap=0.28, barmode="overlay",
    font=dict(family=UI, size=10, color="#000000"), shapes=shapes,
    xaxis=xax("y"),
    xaxis2=xax("y2"), xaxis3=xax("y3"),
    xaxis4=dict(domain=[0, px(1861)], range=xrange_, anchor="y4", showgrid=False, zeroline=False, showticklabels=False,
                ticks="outside", ticklen=4, tickcolor="#000000", tickvals=[-1] + [7 + 8 * i for i in range(29)]),
    yaxis=dict(domain=[py(691), 1], range=[1727.30 - 691 / 38.03, 1727.30], side="right", anchor="x", showgrid=False,
               zeroline=False, tickvals=price_ticks, ticktext=["%.2f" % v for v in price_ticks], ticks="outside",
               ticklen=4, tickcolor="#000000", tickfont=tickfont, automargin=False),
    yaxis2=dict(domain=[py(770), py(694)], range=[-679, 917], side="right", anchor="x2", showgrid=False, zeroline=False,
                tickvals=[739.5125, 0, -592.8625], showticklabels=False, ticks="outside", ticklen=4, tickcolor="#000000"),
    yaxis3=dict(domain=[py(817), py(772)], range=[0, 3], side="right", anchor="x3", showgrid=False, zeroline=False,
                showticklabels=False, ticks=""),
    yaxis4=dict(domain=[py(870), py(820)], range=[0, 3], side="right", anchor="x4", showgrid=False, zeroline=False,
                showticklabels=False, ticks=""),
)

fig.write_html("out.html", config=dict(displayModeBar=False),
               post_script="document.body.style.margin='0';document.body.style.overflow='hidden';")
